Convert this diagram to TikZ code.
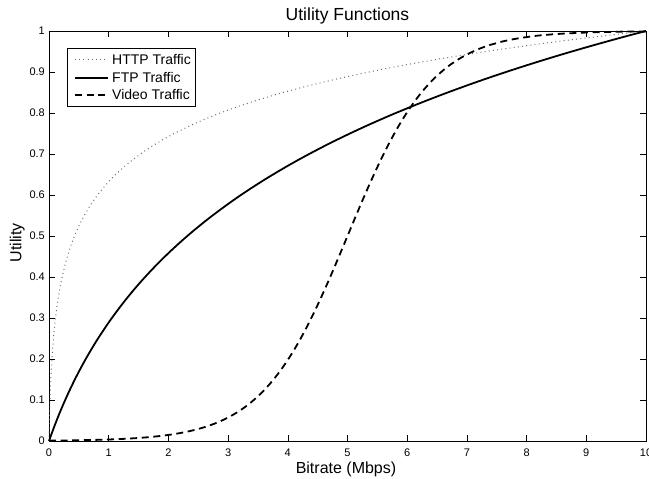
\documentclass[tikz,border=0pt]{standalone}
\usepackage{fontspec}
\setmainfont{Liberation Sans}
\tikzset{
  frameline/.style={line width=0.9pt},
  tickline/.style={line width=0.6pt},
  httpline/.style={line width=1pt, black!60, dash pattern=on 0.9pt off 3.3pt},
  ftpline/.style={line width=1.8pt},
  videoline/.style={line width=1.8pt, dash pattern=on 7pt off 4.6pt},
  ticklabel/.style={font=\fontsize{11}{12}\selectfont, inner sep=0pt},
  axislabel/.style={font=\fontsize{16}{18}\selectfont, inner sep=0pt},
  legendtext/.style={font=\fontsize{14}{16}\selectfont, inner sep=0pt, anchor=base west}
}
\begin{document}
\begin{tikzpicture}[x=1pt, y=1pt]
  \useasboundingbox (0,0) rectangle (649,479);
  % title and axis labels
  \node[font=\fontsize{17.5}{20}\selectfont, inner sep=0pt, anchor=base] (title) at (347.5,458.3) {Utility Functions};
  \node[axislabel, anchor=base] (xlabel) at (346,5.7) {Bitrate (Mbps)};
  \node[axislabel, anchor=base, rotate=90] (ylabel) at (457.3-436,236) {Utility};
  \begin{scope}[shift={(49,38)}, x=59.7pt, y=410pt]
    % frame
    \draw[frameline] (0,0) rectangle (10,1);
    % ticks and tick labels
    \foreach \i in {0,...,10} {
      \draw[tickline] (\i,0) -- ++(0,6pt);
      \draw[tickline] (\i,1) -- ++(0,-6pt);
      \node[ticklabel, anchor=base, yshift=-15.7pt] (xt\i) at (\i,0) {\i};
    }
    \foreach \v/\t in {0/0,0.1/0.1,0.2/0.2,0.3/0.3,0.4/0.4,0.5/0.5,0.6/0.6,0.7/0.7,0.8/0.8,0.9/0.9,1/1} {
      \draw[tickline] (0,\v) -- ++(6pt,0);
      \draw[tickline] (10,\v) -- ++(-6pt,0);
      \node[ticklabel, anchor=east, xshift=-4pt] (yt\t) at (0,\v) {\t};
    }
    % curves
    \draw[httpline] plot[variable=\t, domain=0:1, samples=220, smooth]
      ({10*\t*\t*\t}, {ln(1+500*\t*\t*\t)/ln(501)});
    \draw[ftpline] plot[domain=0:10, samples=120, smooth] (\x, {ln(1+\x)/ln(11)});
    \draw[videoline] plot[domain=0:10, samples=120, smooth] (\x, {1/(1+exp(-1.4*(\x-5)))});
  \end{scope}
  % legend
  \node[draw, line width=0.8pt, fill=white, minimum width=128pt, minimum height=58pt, inner sep=0pt] (legend) at (131,402) {};
  \draw[httpline] (75,419) -- (108,419);
  \node[legendtext] (httptext) at (112,414) {HTTP Traffic};
  \draw[ftpline] (75,401) -- (108,401);
  \node[legendtext] (ftptext) at (112,396) {FTP Traffic};
  \draw[videoline] (75,384) -- (108,384);
  \node[legendtext] (videotext) at (112,379) {Video Traffic};
\end{tikzpicture}
\end{document}
